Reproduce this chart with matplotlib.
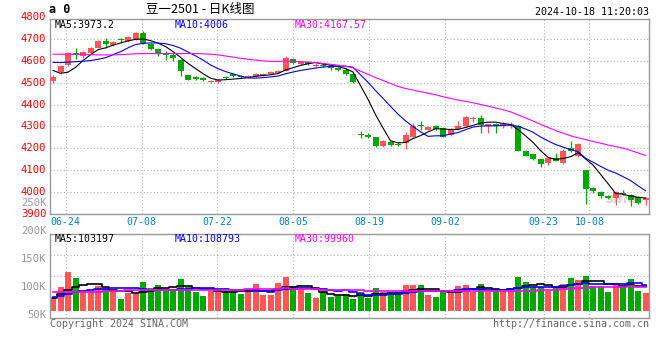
import matplotlib
matplotlib.use("Agg")
import matplotlib.pyplot as plt
import matplotlib.transforms as mtransforms
import numpy as np

plt.rcParams['font.family'] = ['DejaVu Sans Mono', 'Noto Sans CJK SC']

title = "豆一2501 - 日K线图"
stamp = "2024-10-18 11:20:03"

# daily candles 2024-06-20 .. 2024-10-18
opens = [4506, 4548, 4581, 4637, 4620, 4636, 4660, 4691, 4673, 4700,
         4689, 4699, 4728, 4676, 4656, 4634, 4626, 4604, 4533, 4525,
         4520, 4503, 4505, 4526, 4538, 4532, 4524, 4530, 4535, 4540,
         4546, 4555, 4608, 4585, 4595, 4578, 4583, 4575, 4568, 4560,
         4540, 4265, 4262, 4250, 4212, 4230, 4222, 4224, 4254, 4306,
         4285, 4301, 4294, 4262, 4288, 4300, 4333, 4340, 4300, 4309,
         4303, 4302, 4302, 4187, 4173, 4150, 4132, 4158, 4133, 4203,
         4166, 4100, 4017, 4002, 3983, 3975, 3997, 3986, 3978, 3962]
highs = [4534, 4580, 4640, 4657, 4646, 4663, 4693, 4703, 4690, 4706,
         4712, 4730, 4737, 4680, 4660, 4646, 4637, 4608, 4536, 4532,
         4526, 4514, 4516, 4530, 4542, 4536, 4535, 4542, 4545, 4552,
         4556, 4624, 4615, 4598, 4600, 4588, 4588, 4580, 4572, 4565,
         4545, 4280, 4272, 4252, 4240, 4232, 4228, 4275, 4315, 4326,
         4304, 4306, 4296, 4294, 4326, 4347, 4350, 4352, 4313, 4314,
         4320, 4320, 4305, 4192, 4176, 4152, 4160, 4177, 4195, 4235,
         4225, 4102, 4022, 4006, 3988, 4003, 4010, 3990, 3982, 3978]
lows = [4500, 4540, 4578, 4610, 4615, 4632, 4658, 4660, 4668, 4680,
        4685, 4697, 4675, 4648, 4620, 4604, 4601, 4532, 4510, 4512,
        4506, 4498, 4500, 4515, 4528, 4520, 4520, 4526, 4530, 4536,
        4542, 4552, 4585, 4580, 4580, 4572, 4570, 4560, 4555, 4535,
        4500, 4246, 4246, 4208, 4207, 4210, 4212, 4195, 4250, 4284,
        4282, 4284, 4250, 4258, 4285, 4298, 4322, 4270, 4272, 4271,
        4292, 4295, 4188, 4163, 4148, 4113, 4125, 4140, 4130, 4184,
        4160, 3945, 3998, 3972, 3970, 3940, 3985, 3936, 3946, 3940]
closes = [4528, 4575, 4635, 4626, 4642, 4660, 4691, 4676, 4687, 4693,
          4707, 4728, 4682, 4652, 4636, 4628, 4612, 4552, 4513, 4518,
          4512, 4508, 4510, 4520, 4532, 4525, 4530, 4538, 4540, 4548,
          4552, 4612, 4590, 4593, 4585, 4582, 4575, 4565, 4560, 4540,
          4505, 4263, 4252, 4210, 4234, 4213, 4217, 4260, 4300, 4300,
          4298, 4289, 4254, 4290, 4301, 4344, 4336, 4306, 4310, 4303,
          4313, 4313, 4190, 4167, 4152, 4128, 4157, 4143, 4190, 4190,
          4220, 4015, 4003, 3980, 3975, 4000, 3991, 3965, 3950, 3975]

ma5 = [4556, 4543, 4548, 4570, 4601.2, 4627.6, 4650.8, 4659.0, 4671.2, 4681.4,
       4690.8, 4698.2, 4699.4, 4692.4, 4681.0, 4665.2, 4642.0, 4616.0, 4588.2, 4564.6,
       4541.4, 4520.6, 4512.2, 4513.6, 4516.4, 4519.0, 4523.4, 4529.0, 4533.0, 4536.2,
       4541.6, 4558.0, 4568.4, 4579.0, 4586.4, 4592.4, 4585.0, 4580.0, 4573.4, 4564.4,
       4549.0, 4486.6, 4424.0, 4354.0, 4292.8, 4234.4, 4225.2, 4226.8, 4244.8, 4258.0,
       4275.0, 4289.4, 4288.2, 4286.2, 4286.4, 4295.6, 4305.0, 4315.4, 4319.4, 4319.8,
       4313.6, 4309.0, 4285.8, 4257.2, 4227.0, 4190.0, 4158.8, 4149.4, 4154.0, 4161.6,
       4180.0, 4151.6, 4123.6, 4081.6, 4038.6, 3994.6, 3989.8, 3982.2, 3976.2, 3973.2]
ma10 = [4593, 4592, 4594, 4596, 4598, 4601, 4607, 4614, 4628, 4641.3,
        4659.2, 4674.5, 4679.2, 4681.8, 4681.2, 4678.0, 4670.1, 4657.7, 4640.3, 4622.8,
        4603.3, 4581.3, 4564.1, 4550.9, 4540.5, 4530.2, 4522.0, 4520.6, 4523.3, 4526.3,
        4530.3, 4540.7, 4548.7, 4556.0, 4561.3, 4567.0, 4571.5, 4574.2, 4576.2, 4575.4,
        4570.7, 4535.8, 4502.0, 4463.7, 4428.6, 4391.7, 4355.9, 4325.4, 4299.4, 4275.4,
        4254.7, 4257.3, 4257.5, 4265.5, 4272.2, 4285.3, 4297.2, 4301.8, 4302.8, 4303.1,
        4304.6, 4307.0, 4300.6, 4288.3, 4273.4, 4251.8, 4233.9, 4217.6, 4205.6, 4194.3,
        4185.0, 4155.2, 4136.5, 4117.8, 4100.1, 4087.3, 4070.7, 4052.9, 4028.9, 4006.0]
ma30 = [4630, 4630, 4630, 4630, 4629, 4628, 4627, 4627, 4627, 4628,
        4630, 4632, 4633, 4633, 4633, 4633, 4633, 4633, 4633, 4633,
        4632, 4630, 4627, 4622, 4617, 4612, 4607, 4603, 4600, 4596.8,
        4597.6, 4598.8, 4597.3, 4596.2, 4594.3, 4591.7, 4587.9, 4584.2, 4579.9, 4574.8,
        4568.1, 4552.6, 4538.3, 4523.5, 4510.1, 4496.3, 4483.1, 4473.4, 4466.3, 4459.0,
        4451.9, 4444.6, 4436.1, 4428.4, 4420.7, 4414.7, 4408.2, 4400.5, 4392.8, 4384.6,
        4376.7, 4366.7, 4353.4, 4339.2, 4324.7, 4309.6, 4295.7, 4281.6, 4269.3, 4257.6,
        4248.1, 4239.8, 4231.5, 4223.9, 4215.2, 4208.1, 4200.6, 4190.8, 4179.1, 4167.57]

volume = [88100, 105300, 132700, 122000, 95800, 98200, 107700, 103000, 98200, 83900,
          94000, 92300, 114900, 104200, 108900, 98200, 100600, 119600, 105300, 97000,
          89900, 98200, 101800, 98200, 95800, 93400, 100600, 110700, 91700, 91700,
          112500, 123800, 107100, 101200, 95200, 86300, 95800, 88100, 89300, 92800,
          83900, 97000, 86300, 103600, 95800, 92300, 92300, 108900, 108900, 108900,
          91100, 88100, 95800, 100000, 107100, 108900, 95800, 110700, 97000, 98200,
          98200, 101800, 123800, 114900, 105900, 105900, 98200, 105900, 110700, 122000,
          118400, 125600, 107700, 107700, 97000, 112500, 107700, 119600, 98800, 94600]
vol_ma5 = [85, 92, 100, 106, 108.8, 110.8, 111.3, 105.3, 100.6, 98.2,
           97.4, 94.3, 96.7, 97.9, 102.9, 103.7, 105.4, 106.3, 106.5, 104.1,
           102.5, 102.0, 98.4, 97.0, 96.8, 97.5, 98.0, 99.7, 98.4, 97.6,
           101.4, 106.1, 105.4, 107.3, 108.0, 102.7, 97.1, 93.3, 90.9, 90.5,
           90.0, 90.2, 89.9, 92.7, 93.3, 95.0, 94.1, 98.6, 99.6, 102.3,
           102.0, 101.2, 98.6, 96.8, 96.4, 100.0, 101.5, 104.5, 103.9, 102.1,
           100.0, 101.2, 103.8, 107.4, 108.9, 110.5, 109.7, 106.2, 105.3, 108.5,
           111.0, 116.5, 116.9, 116.3, 111.3, 110.1, 106.5, 108.9, 107.1, 106.6]
vol_ma10 = [88, 90, 93, 96, 98, 100, 101, 102, 103, 103.5,
            104.1, 102.8, 101.0, 99.2, 100.5, 100.5, 99.8, 101.5, 102.2, 103.5,
            103.1, 103.7, 102.4, 101.8, 100.5, 100.0, 100.0, 99.1, 97.7, 97.2,
            99.5, 102.0, 102.6, 102.9, 102.8, 102.1, 101.6, 99.3, 99.1, 99.2,
            96.4, 93.7, 91.6, 91.8, 91.9, 92.5, 92.1, 94.2, 96.2, 97.8,
            98.5, 97.6, 98.6, 98.2, 99.3, 101.0, 101.4, 101.5, 100.3, 99.3,
            100.0, 101.4, 104.2, 105.6, 105.5, 105.2, 105.5, 105.0, 106.4, 108.7,
            110.8, 113.1, 111.5, 110.8, 109.9, 110.6, 111.5, 112.9, 111.7, 108.8]
vol_ma30 = [96, 96, 96, 96, 96, 96, 97, 98, 99, 99,
            100, 100, 100, 100, 100, 100, 100, 100, 100, 100,
            100, 100, 100, 100, 100, 100, 101, 101, 101, 101.4,
            102.2, 102.8, 102.0, 101.3, 101.3, 100.9, 100.5, 100.0, 99.7, 100.0,
            99.6, 99.8, 98.8, 98.8, 98.4, 98.2, 97.9, 97.6, 97.7, 98.1,
            98.1, 97.8, 97.6, 97.6, 98.0, 98.5, 98.4, 98.4, 98.5, 98.8,
            98.3, 97.5, 98.1, 98.6, 98.9, 99.6, 99.7, 100.2, 101.0, 101.9,
            103.1, 104.0, 104.7, 104.9, 104.9, 105.6, 106.1, 106.5, 106.1, 105.7]

date_labels = ['06-24', '07-08', '07-22', '08-05', '08-19', '09-02', '09-23', '10-08']
date_index = [2, 12, 22, 32, 42, 52, 65, 71]

price_ticks = [3900, 4000, 4100, 4200, 4300, 4400, 4500, 4600, 4700, 4800]
vol_ticks = [50000, 100000, 150000, 200000, 250000]
ma_text = ['MA5:3973.2', 'MA10:4006', 'MA30:4167.57']
vol_ma_text = ['MA5:103197', 'MA10:108793', 'MA30:99960']

RED = '#ff5555'
GREEN = '#00a800'
LINE_COLORS = ['black', '#0000ff', '#ff00ff']
GRID = '#b4b4b4'
FRAME = '#999999'

W, H = 660, 360


def fx(px):
    return px / W


def fy(py):
    return 1 - py / H


fig = plt.figure(figsize=(6.6, 3.6), dpi=100)
ax = fig.add_axes([fx(50), fy(214), fx(649.3) - fx(50), fy(19) - fy(214)])
axv = fig.add_axes([fx(50), fy(318), fx(649.3) - fx(50), fy(234) - fy(318)])

x = np.arange(len(closes))
o = np.array(opens, dtype=float)
c = np.array(closes, dtype=float)
colors = np.where(c >= o, RED, GREEN)

# grid x positions drift slightly from bar centres in the source chart
grid_x = [1.69 + (i - 2) * 1.0117 for i in date_index]

for a in (ax, axv):
    a.set_xlim(-0.4, 79.5)
    a.set_xticks([])
    a.set_yticks([])
    for s in a.spines.values():
        s.set_color(FRAME)
        s.set_linewidth(1.0)
    for gx in grid_x:
        a.axvline(gx, color=GRID, lw=0.8, ls=(0, (1, 2)), zorder=0)

# price panel
ax.set_ylim(3900, 4791)
for p in price_ticks[1:-1]:
    ax.axhline(p, color=GRID, lw=0.8, ls=(0, (1, 2)), zorder=0)

ax.vlines(x, lows, highs, colors=colors, lw=0.9, zorder=2)
body = np.maximum(np.abs(c - o), 4)
ax.bar(x, body, bottom=np.minimum(o, c), width=0.8, color=colors, lw=0, zorder=3)

for vals, col in zip([ma5, ma10, ma30], LINE_COLORS):
    ax.plot(x, vals, color=col, lw=0.8, zorder=4)

ty = mtransforms.blended_transform_factory(ax.transAxes, ax.transData)
for p in price_ticks:
    ax.text(-0.006, p, str(p), transform=ty, ha='right', va='center',
            color='#ff0000', fontsize=7.6, clip_on=False)

for px, txt, col in zip([55, 175, 295], ma_text, LINE_COLORS):
    fig.text(fx(px), fy(24.5), txt, color=col, fontsize=7.1, ha='left', va='center')

tx = mtransforms.blended_transform_factory(ax.transData, ax.transAxes)
for gx, lab in zip(grid_x, date_labels):
    ax.text(gx, -0.042, lab, transform=tx, ha='center', va='center',
            color='#0080cc', fontsize=7.1, clip_on=False)

ax.text(0.955, 0.075, 'sina', transform=ax.transAxes, color='#e6c4c4',
        fontsize=10, fontweight='bold', fontstyle='italic', ha='center', va='center',
        alpha=0.8, zorder=1, family='DejaVu Sans')

# volume panel
vol_base = 62500
axv.set_ylim(50000, 200000)
lo, hi = axv.get_ylim()
for f in (0.25, 0.5, 0.75):
    axv.axhline(lo + f * (hi - lo), color=GRID, lw=0.8, ls=(0, (1, 2)), zorder=0)

v = np.array(volume, dtype=float)
axv.bar(x, v - vol_base, bottom=vol_base, width=0.8, color=colors, lw=0, zorder=2)
for vals, col in zip([vol_ma5, vol_ma10, vol_ma30], LINE_COLORS):
    axv.plot(x, np.array(vals) * 1000, color=col, lw=1.2, drawstyle='steps-mid', zorder=3)

tv = mtransforms.blended_transform_factory(axv.transAxes, axv.transData)
for t in vol_ticks:
    axv.text(-0.006, t + 5000, f"{t // 1000}K", transform=tv, ha='right', va='center',
             color='#999999', fontsize=7.6, clip_on=False)

for px, txt, col in zip([55, 175, 295], vol_ma_text, LINE_COLORS):
    fig.text(fx(px), fy(238.5), txt, color=col, fontsize=7.1, ha='left', va='center')

# header and footer
fig.text(fx(49), fy(9.5), 'a 0', fontsize=8.5, fontweight='bold', ha='left', va='center')
fig.text(fx(200), fy(9), title, fontsize=9, ha='center', va='center',
         family=['Noto Sans CJK SC', 'DejaVu Sans'])
fig.text(fx(649), fy(12), stamp, fontsize=7.2, ha='right', va='center')
fig.text(fx(50), fy(324), 'Copyright 2024 SINA.COM', fontsize=7.2, color='#666666',
         ha='left', va='center')
fig.text(fx(649), fy(324), 'http://finance.sina.com.cn', fontsize=7.2, color='#666666',
         ha='right', va='center')

fig.savefig('out.png', dpi=100)
